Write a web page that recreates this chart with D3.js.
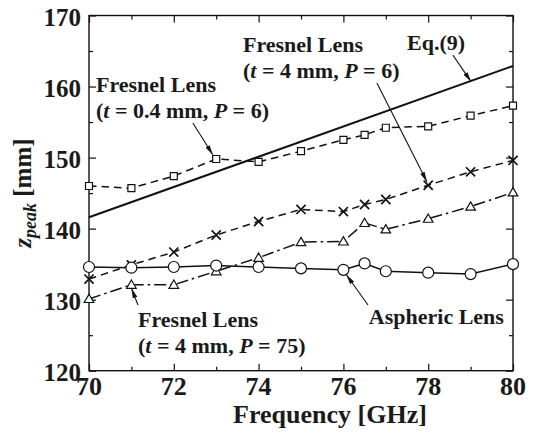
<!DOCTYPE html>
<html>
<head>
<meta charset="utf-8">
<script src="https://cdn.jsdelivr.net/npm/d3@7"></script>
<style>
  svg text { font-family: "Liberation Serif", serif !important; }
</style>
</head>
<body style="margin:0;background:#fff">
<svg id="chart" width="536" height="433" font-family="Liberation Serif"></svg>
<script>
// Measured focal-spot distance z_peak [mm] versus frequency [GHz]
const frequency = [70, 71, 72, 73, 74, 75, 76, 76.5, 77, 78, 79, 80];
const fresnelThinP6 = [146.0, 145.7, 147.4, 149.8, 149.4, 150.9, 152.5, 153.2, 154.2, 154.4, 155.9, 157.3];
const fresnelThickP6 = [132.9, 134.9, 136.7, 139.1, 141.0, 142.7, 142.4, 143.4, 144.1, 146.1, 148.0, 149.6];
const fresnelThickP75 = [130.1, 132.1, 132.1, 134.0, 135.9, 138.1, 138.2, 140.8, 139.9, 141.4, 143.1, 145.1];
const aspheric = [134.6, 134.5, 134.6, 134.8, 134.6, 134.4, 134.2, 135.1, 134.0, 133.8, 133.6, 135.0];

// Theoretical curve, Eq.(9)
const eq9Freq = [70, 80];
const eq9Values = [141.6, 162.9];

const xMajorTicks = [70, 72, 74, 76, 78, 80];
const xMinorTicks = [71, 73, 75, 77, 79];
const yMajorTicks = [120, 130, 140, 150, 160, 170];
const yMinorTicks = [125, 135, 145, 155, 165];

const FONT = "Liberation Serif";
const INK = "#1a1a1a";

const svg = d3.select("#chart");
const plotLeft = 89, plotRight = 513, plotTop = 15.5, plotBottom = 370.7;

const x = d3.scaleLinear().domain([70, 80]).range([plotLeft, plotRight]);
const y = d3.scaleLinear().domain([120, 170]).range([plotBottom, plotTop]);

// Arrowhead for the callouts
svg.append("defs").append("marker")
  .attr("id", "arrowhead")
  .attr("viewBox", "0 0 10 6")
  .attr("refX", 10).attr("refY", 3)
  .attr("markerWidth", 10).attr("markerHeight", 6)
  .attr("markerUnits", "userSpaceOnUse")
  .attr("orient", "auto")
  .append("path").attr("d", "M0,0.6 L10,3 L0,5.4 Z").attr("fill", "#111");

// Frame ticks (pointing inward on all four sides)
function frameAxis(axisFn, scale, ticks, size, transform) {
  svg.append("g")
    .attr("transform", transform)
    .call(axisFn(scale).tickValues(ticks).tickSize(size).tickFormat(""))
    .call(g => g.select(".domain").remove())
    .call(g => g.selectAll("text").remove())
    .call(g => g.selectAll("line").attr("stroke", "#111").attr("stroke-width", 1.2));
}
frameAxis(d3.axisBottom, x, xMajorTicks, -7, `translate(0,${plotBottom})`);
frameAxis(d3.axisBottom, x, xMinorTicks, -4, `translate(0,${plotBottom})`);
frameAxis(d3.axisTop, x, xMajorTicks, -7, `translate(0,${plotTop})`);
frameAxis(d3.axisTop, x, xMinorTicks, -4, `translate(0,${plotTop})`);
frameAxis(d3.axisLeft, y, yMajorTicks, -7, `translate(${plotLeft},0)`);
frameAxis(d3.axisLeft, y, yMinorTicks, -4, `translate(${plotLeft},0)`);
frameAxis(d3.axisRight, y, yMajorTicks, -7, `translate(${plotRight},0)`);
frameAxis(d3.axisRight, y, yMinorTicks, -4, `translate(${plotRight},0)`);

svg.append("rect")
  .attr("x", plotLeft).attr("y", plotTop)
  .attr("width", plotRight - plotLeft).attr("height", plotBottom - plotTop)
  .attr("fill", "none").attr("stroke", "#111").attr("stroke-width", 1.4);

// Text helper: bold serif
function label(parent) {
  return parent.append("text")
    .attr("font-family", FONT)
    .style("font-family", FONT)
    .attr("font-weight", "bold").attr("fill", INK);
}

// Tick labels
xMajorTicks.forEach(d => {
  label(svg).attr("x", x(d)).attr("y", 395)
    .attr("text-anchor", "middle").attr("font-size", 26).text(d);
});
yMajorTicks.forEach(d => {
  label(svg).attr("x", 81).attr("y", y(d) + 10.5)
    .attr("text-anchor", "end").attr("font-size", 25).text(d);
});

// Axis titles
label(svg)
  .attr("x", (plotLeft + plotRight) / 2 + 29).attr("y", 423)
  .attr("text-anchor", "middle").attr("font-size", 26)
  .text("Frequency [GHz]");

const yTitle = label(svg)
  .attr("transform", `translate(31,${(plotTop + plotBottom) / 2}) rotate(-90)`)
  .attr("text-anchor", "middle").attr("font-size", 25);
yTitle.append("tspan").attr("font-style", "italic").text("z");
yTitle.append("tspan").attr("font-style", "italic").attr("font-size", 18).attr("dy", 5).text("peak");
yTitle.append("tspan").attr("dy", -5).text(" [mm]");

// Curves
const line = d3.line().x(d => x(d[0])).y(d => y(d[1]));

svg.append("path")
  .datum(d3.zip(eq9Freq, eq9Values))
  .attr("d", line).attr("fill", "none")
  .attr("stroke", "#111").attr("stroke-width", 2.0);

const series = [
  { values: fresnelThinP6, dash: "7.5,5", marker: "square" },
  { values: fresnelThickP6, dash: "7.5,5", marker: "cross" },
  { values: fresnelThickP75, dash: "12,4,2.5,4", marker: "triangle" },
  { values: aspheric, dash: null, marker: "circle" }
];

series.forEach(s => {
  const pts = d3.zip(frequency, s.values);
  svg.append("path")
    .datum(pts).attr("d", line).attr("fill", "none")
    .attr("stroke", "#111").attr("stroke-width", 1.5)
    .attr("stroke-dasharray", s.dash);

  const g = svg.append("g");
  const sym = {
    square: d3.symbol(d3.symbolSquare, 49),
    circle: d3.symbol(d3.symbolCircle, Math.PI * 5.5 * 5.5),
    triangle: d3.symbol(d3.symbolTriangle, 40),
    cross: d3.symbol(d3.symbolX, 56)
  }[s.marker];
  g.selectAll("path").data(pts).join("path")
    .attr("transform", d => `translate(${x(d[0])},${y(d[1]) + (s.marker === "triangle" ? 0.8 : 0)})`)
    .attr("d", sym)
    .attr("fill", s.marker === "cross" ? "none" : "#fff")
    .attr("stroke", "#111").attr("stroke-width", s.marker === "cross" ? 1.7 : 1.2);
});

// Callout labels with arrows (positions in data units)
const callouts = [
  { lines: ["Fresnel Lens", ["(", ["t"], " = 0.4 mm, ", ["P"], " = 6)"]],
    at: [70.165, 159.3], from: [72.45, 154.87], to: [72.92, 150.4] },
  { lines: ["Fresnel Lens", ["(", ["t"], " = 4 mm, ", ["P"], " = 6)"]],
    at: [73.632, 164.86], from: [76.79, 160.5], to: [77.97, 146.6] },
  { lines: ["Eq.(9)"],
    at: [77.5, 165.14], from: [78.58, 164.44], to: [79.01, 160.7] },
  { lines: ["Fresnel Lens", ["(", ["t"], " = 4 mm, ", ["P"], " = 75)"]],
    at: [71.156, 126.22], from: [71.156, 129.25], to: [71.0, 131.6] },
  { lines: ["Aspheric Lens"],
    at: [76.6, 126.57], from: [76.58, 129.25], to: [76.07, 133.5] }
];

callouts.forEach(c => {
  svg.append("line")
    .attr("x1", x(c.from[0])).attr("y1", y(c.from[1]))
    .attr("x2", x(c.to[0])).attr("y2", y(c.to[1]))
    .attr("stroke", "#111").attr("stroke-width", 1.1)
    .attr("marker-end", "url(#arrowhead)");
  c.lines.forEach((ln, i) => {
    const t = label(svg)
      .attr("x", x(c.at[0])).attr("y", y(c.at[1]) + i * 26)
      .attr("font-size", 22);
    const parts = typeof ln === "string" ? [ln] : ln;
    parts.forEach(p => {
      if (Array.isArray(p)) t.append("tspan").attr("font-style", "italic").text(p[0]);
      else t.append("tspan").text(p);
    });
  });
});
</script>
</body>
</html>
